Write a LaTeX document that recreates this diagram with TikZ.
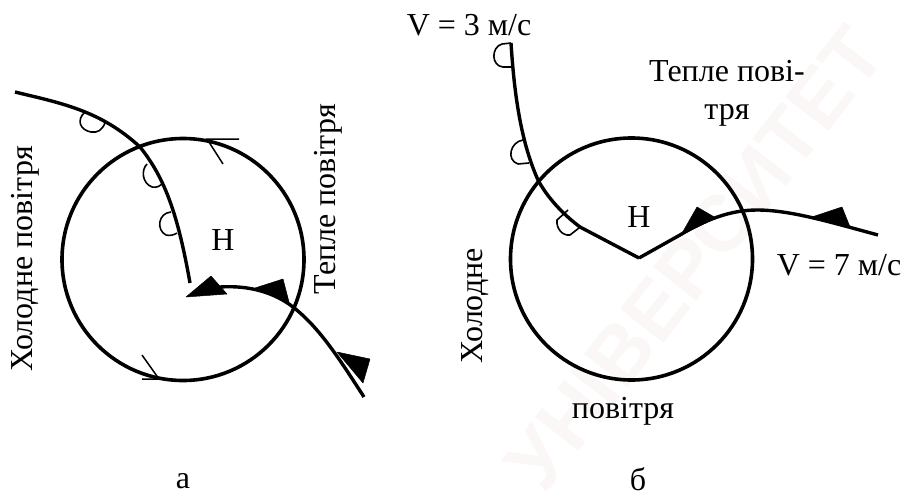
\documentclass[tikz,border=0pt]{standalone}
\usepackage{fontspec}
\setmainfont{Liberation Serif}
\setsansfont{Liberation Sans}
\usetikzlibrary{positioning}
\definecolor{markWater}{RGB}{251,247,247}
\tikzset{
	front/.style={line width=3.4pt, line cap=butt, line join=round},
	ring/.style={line width=3.6pt},
	barb/.style={line width=1.5pt},
	cold/.style={line width=1.6pt, line join=round},
	warm/.style={fill=black, draw=black, line width=0.5pt, line join=round}
}
\begin{document}
\begin{tikzpicture}[x=1pt, y=-1pt, every node/.style={font=\fontsize{32}{38}\selectfont, inner sep=0pt}]
	\useasboundingbox (0,0) rectangle (904,493);
	% Faint stamp behind panel b
	\node[rotate=52, text=markWater, font=\sffamily\bfseries\fontsize{80}{90}\selectfont] (stamp) at (695,258) {УНІВЕРСИТЕТ};
	% Panel a: ring and its two barbs
	\draw[ring] (183,259.5) circle (121);
	\draw[barb] (239,139) -- (207,139) -- (223,164);
	\draw[barb] (142,379) -- (159,379) -- (142,355);
	% Panel a: cold front
	\draw[front] (15,92) .. controls (60,103) and (100,110) .. (140,147) .. controls (165,178) and (178,215) .. (190,283);
	\draw[cold] (85,112) .. controls (76,120) and (80,130) .. (91,132) .. controls (98,133) and (102,130) .. (105,123);
	\draw[cold] (147,164) .. controls (141,170) and (142,183) .. (152,187) .. controls (157,188) and (160,186) .. (163,183);
	\draw[cold] (171,212) .. controls (158,213) and (156,230) .. (166,235) .. controls (170,236) and (174,235) .. (177,233);
	% Panel a: warm front
	\draw[front] (220,287) .. controls (250,285) and (275,293) .. (293,307) .. controls (320,328) and (340,360) .. (364,397);
	\fill[warm] (186,297) -- (211,276) -- (227,294) -- cycle;
	\fill[warm] (255,288) -- (283,279) -- (289,302) -- cycle;
	\fill[warm] (337,352) -- (370,359) -- (363,383) -- cycle;
	% Panel a: labels
	\node (lowA) at (223,240) {Н};
	\node[rotate=90] (coldA) at (25,259) {Холодне повітря};
	\node[rotate=90] (warmA) at (328,199) {Тепле повітря};
	\node (capA) at (183,481) {а};
	% Panel b: ring
	\draw[ring] (631.5,259) circle (121);
	% Panel b: cold front
	\draw[front] (511,43) .. controls (514,90) and (520,140) .. (538,180) .. controls (546,195) and (560,212) .. (580,227) -- (639,258);
	\draw[cold] (511,43) -- (502,44) .. controls (491,47) and (491,66) .. (503,67) -- (511,67);
	\draw[cold] (523,140) .. controls (510,142) and (506,160) .. (518,164) -- (529,163);
	\draw[cold] (568,210) -- (557,220) .. controls (556,228) and (562,236) .. (570,235) -- (579,228);
	% Panel b: warm front
	\draw[front] (639,258) -- (680,235) .. controls (705,220) and (730,210) .. (757,210) .. controls (790,210) and (830,222) .. (878,235);
	\fill[warm] (681,235) -- (697,207) -- (716,218) -- cycle;
	\fill[warm] (812,217) -- (842,207) -- (850,227) -- cycle;
	% Panel b: labels
	\node (lowB) at (639,217) {Н};
	\node (speedCold) at (469,25) {V = 3 м/с};
	\node (speedWarm) at (839,265) {V = 7 м/с};
	\node[align=center] (warmB) at (727,93) {Тепле пові-\\тря};
	\node[rotate=90] (coldB) at (475,306) {Холодне};
	\node (coldBelow) at (623,411) {повітря};
	\node (capB) at (638,479) {б};
\end{tikzpicture}
\end{document}
